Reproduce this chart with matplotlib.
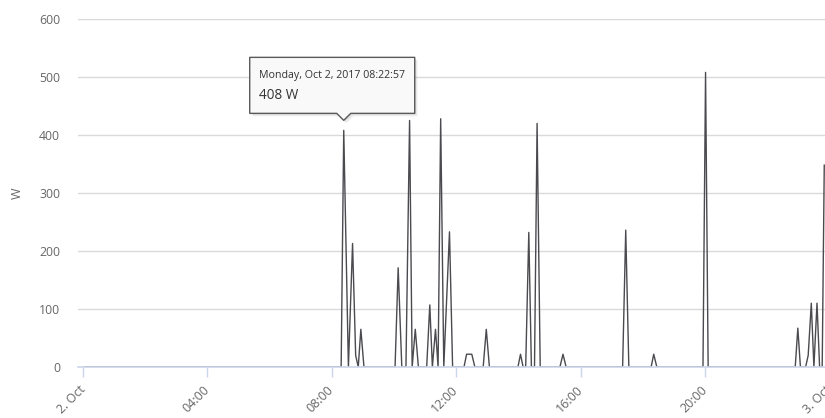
import numpy as np
import matplotlib.pyplot as plt
from matplotlib.patches import Polygon

# power readings, 2 Oct 2017 (time of day, watts)
times = ["00:04", "08:18", "08:23", "08:32", "08:40", "08:46", "08:51", "08:56", "09:02",
         "10:02", "10:08", "10:15", "10:23", "10:30", "10:35", "10:41", "10:47",
         "11:03", "11:09", "11:14", "11:20", "11:25", "11:30", "11:36", "11:47", "11:53",
         "12:15", "12:20", "12:30", "12:36", "12:52", "12:58", "13:04",
         "13:59", "14:04", "14:09", "14:14", "14:20", "14:25", "14:31", "14:36", "14:42",
         "15:20", "15:26", "15:32", "17:21", "17:27", "17:33", "18:16", "18:21", "18:27",
         "19:56", "20:01", "20:06", "22:54", "22:59", "23:04",
         "23:14", "23:19", "23:25", "23:30", "23:36", "23:41", "23:46", "23:50"]
watts = [0, 0, 408, 0, 213, 20, 0, 65, 0,
         0, 171, 0, 0, 425, 0, 65, 0,
         0, 107, 0, 65, 0, 428, 0, 233, 0,
         0, 22, 22, 0, 0, 65, 0,
         0, 22, 0, 0, 232, 0, 0, 420, 0,
         0, 22, 0, 0, 236, 0, 0, 22, 0,
         0, 508, 0, 0, 67, 0,
         0, 20, 110, 0, 110, 0, 0, 348]

tick_pos = [0, 4, 8, 12, 16, 20, 24]
tick_labels = ["2. Oct", "04:00", "08:00", "12:00", "16:00", "20:00", "3. Oct"]
y_ticks = [0, 100, 200, 300, 400, 500, 600]

tip_time = "08:22:57"
tip_value = 408

hours = np.array([int(t[:2]) + int(t[3:]) / 60 for t in times])

plt.rcParams["font.family"] = ["Open Sans", "DejaVu Sans"]

W, H = 825, 418
fig = plt.figure(figsize=(W / 100, H / 100), dpi=100)
ax = fig.add_axes([78 / W, 51 / H, (831 - 78) / W, 348 / H])

ax.plot(hours, watts, color="#4a4a4f", lw=1.0, zorder=2)

ax.set_xlim(-0.161, 24.05)
ax.set_ylim(0, 600)
ax.set_yticks(y_ticks)
ax.set_xticks(tick_pos)
ax.set_xticklabels(tick_labels, rotation=45, ha="right", va="center", rotation_mode="anchor")

ax.grid(axis="y", color="#dadada", lw=1)
ax.set_axisbelow(True)
for s in ["top", "right", "left"]:
    ax.spines[s].set_visible(False)
ax.spines["bottom"].set_color("#ccd6eb")
ax.spines["bottom"].set_linewidth(1.2)
ax.spines["bottom"].set_zorder(3)

ax.tick_params(axis="y", length=0, pad=13, labelsize=8.8, labelcolor="#666666")
ax.tick_params(axis="x", length=7, width=1, color="#ccd6eb", pad=8, labelsize=9, labelcolor="#666666")
ax.set_ylabel("W", color="#666666", fontsize=9, labelpad=11)

# tooltip for the 08:22:57 reading
h, m, s = [int(v) for v in tip_time.split(":")]
tx, ty = ax.transData.transform((h + m / 60 + s / 3600, tip_value))
tip_y = ty + 10
bot = tip_y + 7
top = bot + 56
left, right = tx - 94, tx + 71
pts = [(left, bot), (tx - 7, bot), (tx, tip_y), (tx + 7, bot), (right, bot), (right, top), (left, top)]
to_fig = fig.transFigure.inverted()
for k in (3, 2, 1):
    shadow = [to_fig.transform((x + k, y - k)) for x, y in pts]
    fig.add_artist(Polygon(shadow, closed=True, facecolor="black", edgecolor="none", alpha=0.05))
box = [to_fig.transform(p) for p in pts]
fig.add_artist(Polygon(box, closed=True, facecolor="#f9f9f9", edgecolor="#5a5a5a", lw=1.0, joinstyle="round"))

t1 = to_fig.transform((left + 9, top - 18))
t2 = to_fig.transform((left + 9, top - 38))
fig.text(t1[0], t1[1], "Monday, Oct 2, 2017 " + tip_time, fontsize=7.7, color="#333333", va="center")
fig.text(t2[0], t2[1], str(tip_value) + " W", fontsize=9.8, color="#333333", va="center")

fig.savefig("out.png", dpi=100)
plt.close()
